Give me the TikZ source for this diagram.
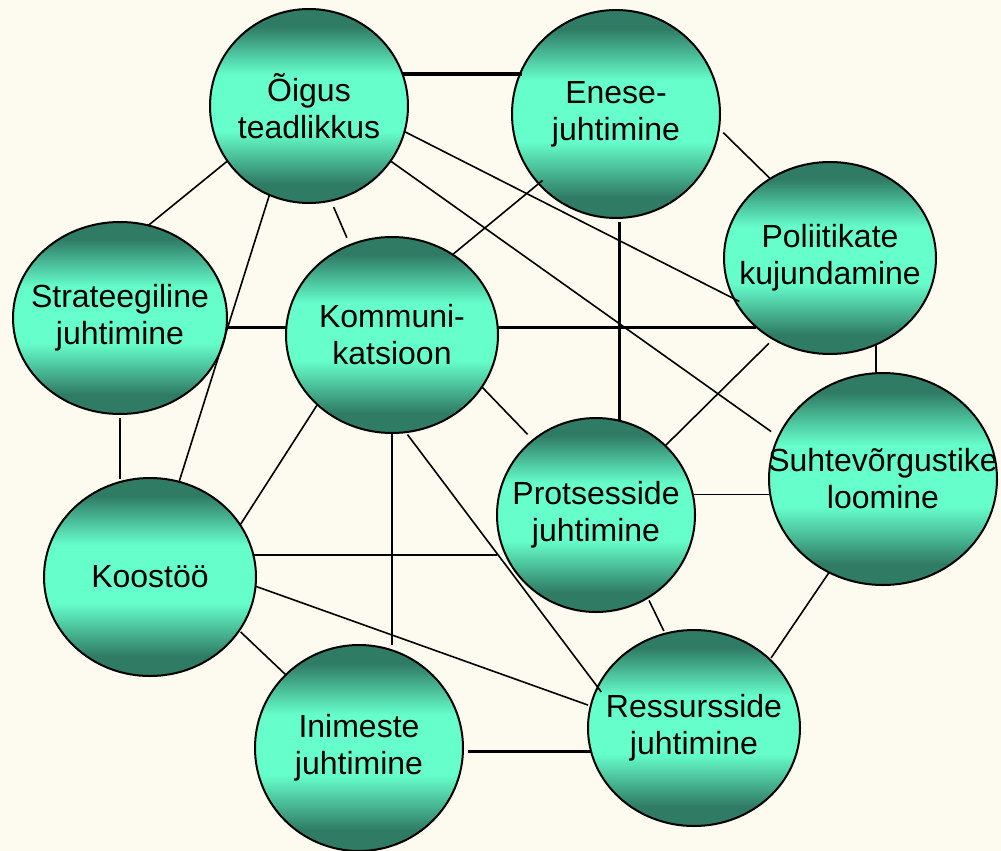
\documentclass[tikz,border=0pt]{standalone}
\usepackage{fontspec}
\setmainfont{Liberation Sans}
\usetikzlibrary{shapes.geometric}
\definecolor{bg}{HTML}{FDFBEF}
\definecolor{dk}{HTML}{2F7B63}
\definecolor{lt}{HTML}{66FFCC}
\pgfdeclareverticalshading{bubbleshade}{100bp}{color(0bp)=(dk); color(30bp)=(dk); color(43.5bp)=(lt); color(58bp)=(lt); color(70.5bp)=(dk); color(100bp)=(dk)}
\begin{document}
\begin{tikzpicture}[x=1pt,y=-1pt,
  bubble/.style={ellipse, draw=black, line width=2pt, shading=bubbleshade, inner sep=0pt, outer sep=0pt},
  txt/.style={font=\fontsize{32}{37}\selectfont, align=center, text=black, inner sep=0pt},
  ln/.style={draw=black, line width=1.6pt},
  lnb/.style={draw=black, line width=3.4pt}]
\fill[bg] (0,0) rectangle (1001,851);
\useasboundingbox (0,0) rectangle (1001,851);

\node[bubble, minimum width=198pt, minimum height=194pt, label={[txt]center:{Õigus\\teadlikkus}}] (oigus) at (309,106) {};
\node[bubble, minimum width=208pt, minimum height=208pt, label={[txt]center:{Enese-\\juhtimine}}] (enese) at (616,114) {};
\node[bubble, minimum width=212pt, minimum height=192pt, label={[txt]center:{Poliitikate\\kujundamine}}] (polit) at (830,258) {};
\node[bubble, minimum width=214pt, minimum height=192pt, label={[txt]center:{Strateegiline\\juhtimine}}] (strat) at (120,318) {};
\node[bubble, minimum width=212pt, minimum height=196pt, label={[txt]center:{Kommuni-\\katsioon}}] (komm) at (392,335) {};
\node[bubble, minimum width=228pt, minimum height=212pt, label={[txt]center:{Suhtevõrgustike\\loomine}}] (suhte) at (883,479) {};
\node[bubble, minimum width=198pt, minimum height=194pt, label={[txt]center:{Protsesside\\juhtimine}}] (protsess) at (596,515) {};
\node[bubble, minimum width=212pt, minimum height=198pt, label={[txt]center:{Koostöö}}] (koost) at (150,577) {};
\node[bubble, minimum width=208pt, minimum height=206pt, label={[txt]center:{Inimeste\\juhtimine}}] (inim) at (359,748) {};
\node[bubble, minimum width=212pt, minimum height=196pt, label={[txt]center:{Ressursside\\juhtimine}}] (ressur) at (694,728) {};

\draw[lnb] (oigus.19) -- (oigus.19 -| enese.155);
\draw[ln] (oigus.214) -- (strat.73);
\draw[ln] (oigus.246) -- (koost.73);
\draw[ln, shorten <=7pt, shorten >=8pt] (oigus.283) -- (komm.115);
\draw[ln, shorten >=-6pt] (oigus.345) -- (polit.203);
\draw[ln, shorten >=9pt] (oigus.326) -- (suhte.158);
\draw[ln, shorten <=-5pt] (enese.222) -- (komm.53);
\draw[lnb, shorten <=4pt] (enese.272) -- (enese.272 |- protsess.77);
\draw[ln, shorten <=6pt] (enese.352) -- (polit.127);
\draw[lnb] (strat.355) -- (strat.355 -| komm.176);
\draw[lnb] (komm.4) -- (komm.4 -| polit.223);
\draw[ln, shorten <=6pt] (polit.235) -- (protsess.45);
\draw[ln, shorten >=8pt] (komm.330) -- (protsess.130);
\draw[ln, shorten <=4pt, shorten >=3pt] (strat.south) -- (strat.south |- koost.107);
\draw[ln] (komm.223) -- (koost.30);
\draw[ln, shorten >=5pt] (komm.south) -- (komm.south |- inim.72);
\draw[ln, shorten <=3pt, shorten >=-6pt] (komm.278) -- (ressur.157);
\draw[ln, shorten >=7pt] (koost.12) -- (koost.12 -| protsess.202);
\draw[ln, shorten >=3pt] (koost.355) -- (ressur.168);
\draw[ln, shorten <=2pt] (koost.329) -- (inim.135);
\draw[lnb, shorten <=5pt] (inim.358) -- (inim.358 -| ressur.192);
\draw[ln] (protsess.12) -- (protsess.12 -| suhte.188);
\draw[ln, shorten <=3pt, shorten >=3pt] (protsess.302) -- (ressur.107);
\draw[ln, shorten >=2pt] (suhte.240) -- (ressur.42);
\draw[ln] (polit.298) -- (polit.298 |- suhte.north);
\end{tikzpicture}
\end{document}
